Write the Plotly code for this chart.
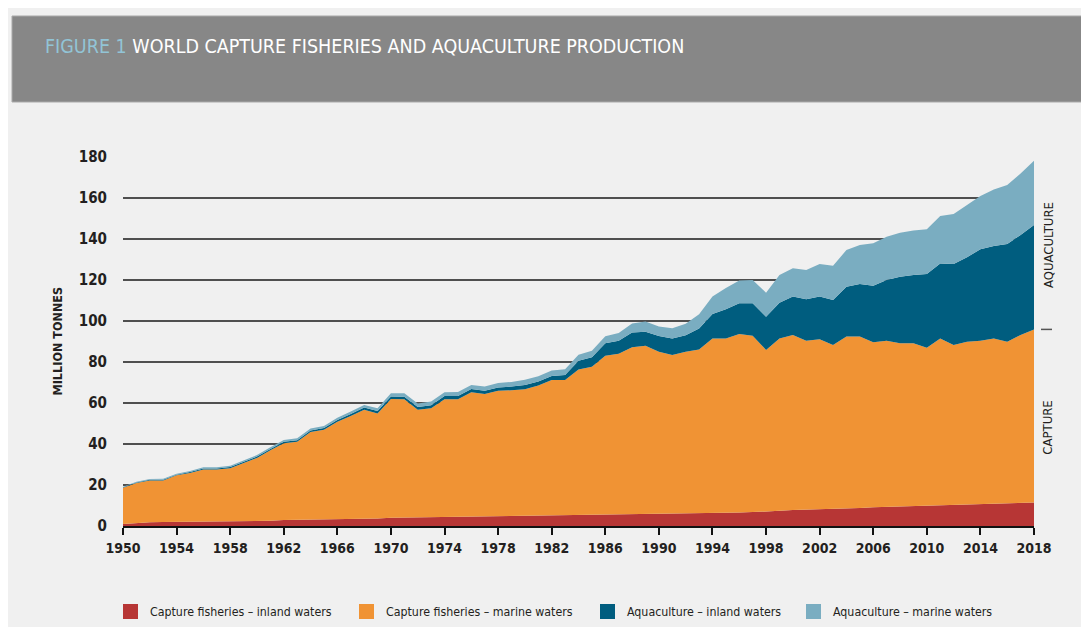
import plotly.graph_objects as go

years = list(range(1950, 2019))

capture_inland = [1.0,1.5,1.8,1.9,2.0,2.0,2.1,2.1,2.1,2.2,
                  2.3,2.5,2.9,3.0,3.0,3.1,3.2,3.4,3.6,3.7,
                  4.0,4.1,4.2,4.3,4.4,4.4,4.5,4.5,4.5,4.6,
                  4.7,4.8,5.0,5.2,5.4,5.5,5.6,5.7,5.8,5.9,
                  6.0,6.0,6.0,6.1,6.2,6.4,6.6,6.8,7.0,7.4,
                  7.8,8.0,8.1,8.2,8.4,8.8,9.2,9.4,9.5,9.7,
                  9.9,10.1,10.3,10.5,10.8,11.0,11.1,11.3,11.5]

capture_marine = [17.6,19.45,20.4,20.35,22.7,23.9,25.5,25.5,26.1,28.4,
                  30.9,34.4,37.5,38.1,42.8,43.8,47.6,50.2,53.1,51.2,
                  58.0,57.7,52.5,53.1,57.4,57.4,60.7,59.9,61.5,61.6,
                  62.0,63.7,66.2,66.0,71.0,72.2,77.4,78.3,81.4,82.0,
                  79.0,77.4,79.0,80.0,85.3,85.1,87.0,86.0,78.9,84.1,
                  85.4,82.4,83.0,80.1,84.0,83.6,80.4,81.0,79.6,79.4,
                  77.1,81.4,78.0,79.4,79.6,80.5,78.8,81.9,84.4]

aqua_inland = [0.3,0.3,0.3,0.35,0.35,0.4,0.45,0.5,0.55,0.6,
               0.65,0.7,0.7,0.75,0.8,0.85,0.9,1.0,1.05,1.15,
               1.2,1.3,1.4,1.5,1.6,1.6,1.6,1.6,1.6,1.8,
               2.1,2.0,2.0,2.5,4.2,4.6,6.1,6.4,7.2,6.9,
               7.7,8.1,8.1,10.3,11.9,14.2,15.0,15.8,16.2,17.4,
               18.7,20.2,20.8,21.9,24.3,25.6,27.6,29.6,32.5,33.3,
               35.9,36.6,39.5,41.2,44.6,45.1,47.7,48.8,50.9]

aqua_marine = [0.3,0.35,0.4,0.4,0.45,0.5,0.55,0.6,0.65,0.7,
               0.75,0.8,0.9,0.95,1.0,1.05,1.1,1.2,1.25,1.35,
               1.5,1.6,1.7,1.8,1.9,2.0,2.0,2.1,2.2,2.3,
               2.5,2.6,2.7,2.8,2.9,3.2,3.4,3.8,4.4,5.0,
               4.6,5.0,5.6,6.9,8.6,10.4,11.2,11.4,11.7,13.5,
               13.8,14.3,15.9,16.8,17.9,19.1,20.7,21.1,21.5,21.7,
               21.8,23.1,24.4,25.5,26.0,27.6,28.7,30.0,31.4]

series_names = ["Capture fisheries – inland waters", "Capture fisheries – marine waters",
                "Aquaculture – inland waters", "Aquaculture – marine waters"]
series_colors = ["#b73635", "#f09334", "#005d7f", "#7aadc1"]
series_values = [capture_inland, capture_marine, aqua_inland, aqua_marine]

x_tick_vals = list(range(1950, 2019, 4))
y_tick_vals = list(range(0, 181, 20))

title_prefix = "FIGURE 1"
title_main = "WORLD CAPTURE FISHERIES AND AQUACULTURE PRODUCTION"
y_title = "MILLION TONNES"
right_labels = ["CAPTURE", "AQUACULTURE"]

# the page body has an 8px margin; work in page coordinates and subtract it
OFF = 8
W, H = 1089 - OFF, 627 - OFF
L, R, T, B = 123 - OFF, 1034 - OFF, 157 - OFF, 526 - OFF
FONT = "DejaVu Sans Condensed, Roboto, sans-serif"
TXT = "#231f20"


def px(xp):
    return (xp - OFF - L) / (R - L)


def py(yp):
    return (B - (yp - OFF)) / (B - T)


fig = go.Figure()
for name, color, vals in zip(series_names, series_colors, series_values):
    fig.add_trace(go.Scatter(
        x=years, y=vals, name=name, stackgroup="one", mode="lines",
        line=dict(width=0, color=color), fillcolor=color, showlegend=False,
    ))

shapes = []
annotations = []

# title bar
shapes.append(dict(type="rect", xref="paper", yref="paper", x0=px(12), x1=px(1092), y0=py(102), y1=py(16),
                   fillcolor="#878787", line=dict(width=1, color="#a9a9a9"), layer="below"))
annotations.append(dict(
    xref="paper", yref="paper", x=px(43), y=py(46), xanchor="left", yanchor="middle",
    text=f"<span style='color:#92c4d6'>{title_prefix}</span> {title_main}",
    showarrow=False, font=dict(family=FONT, size=19.5, color="white"),
))

# y-axis title
annotations.append(dict(
    xref="paper", yref="paper", x=px(57), y=0.5, xanchor="center", yanchor="middle",
    text=f"<b>{y_title}</b>", textangle=-90, showarrow=False,
    font=dict(family=FONT, size=12.5, color=TXT),
))

# right-side labels
cap_total = capture_inland[-1] + capture_marine[-1]
aq_total = aqua_inland[-1] + aqua_marine[-1]
annotations.append(dict(
    xref="paper", yref="y", x=px(1048), y=cap_total / 2, xanchor="center", yanchor="middle",
    text=right_labels[0], textangle=-90, showarrow=False, font=dict(family=FONT, size=13, color=TXT),
))
annotations.append(dict(
    xref="paper", yref="y", x=px(1048), y=cap_total + aq_total / 2, xanchor="center", yanchor="middle",
    text=right_labels[1], textangle=-90, showarrow=False, font=dict(family=FONT, size=13, color=TXT),
))
shapes.append(dict(type="line", xref="paper", yref="y", x0=px(1041), x1=px(1052), y0=cap_total, y1=cap_total,
                   line=dict(color="#555555", width=1.5)))

# legend
legend_sq_x = [123, 359, 600, 806]
for name, color, sx in zip(series_names, series_colors, legend_sq_x):
    shapes.append(dict(type="rect", xref="paper", yref="paper", x0=px(sx), x1=px(sx + 15),
                       y0=py(619), y1=py(604), fillcolor=color, line=dict(width=0)))
    annotations.append(dict(
        xref="paper", yref="paper", x=px(sx + 25), y=py(611.5), xanchor="left", yanchor="middle",
        text=name, showarrow=False, font=dict(family=FONT, size=12.3, color=TXT),
    ))

fig.update_layout(
    width=W, height=H, autosize=False,
    margin=dict(l=L, r=W - R, t=T, b=H - B, pad=0),
    paper_bgcolor="#f0f0f0", plot_bgcolor="rgba(0,0,0,0)",
    shapes=shapes, annotations=annotations, showlegend=False,
    xaxis=dict(
        range=[1950, 2018], tickmode="array", tickvals=x_tick_vals,
        ticktext=[str(v) for v in x_tick_vals],
        showgrid=False, zeroline=False, showline=True, linecolor="#111111", linewidth=2,
        ticks="outside", ticklen=7, tickwidth=1.5, tickcolor="#111111",
        tickfont=dict(family=FONT, size=14, color=TXT, weight="bold"),
        ticklabelstandoff=1,
    ),
    yaxis=dict(
        range=[0, 180], tickmode="array", tickvals=y_tick_vals,
        showgrid=True, gridcolor="#4f4f4f", gridwidth=1.5, zeroline=False,
        showline=False, ticks="",
        tickfont=dict(family=FONT, size=15, color=TXT, weight="bold"),
        ticklabelstandoff=15,
    ),
)

fig.write_html("out.html")
